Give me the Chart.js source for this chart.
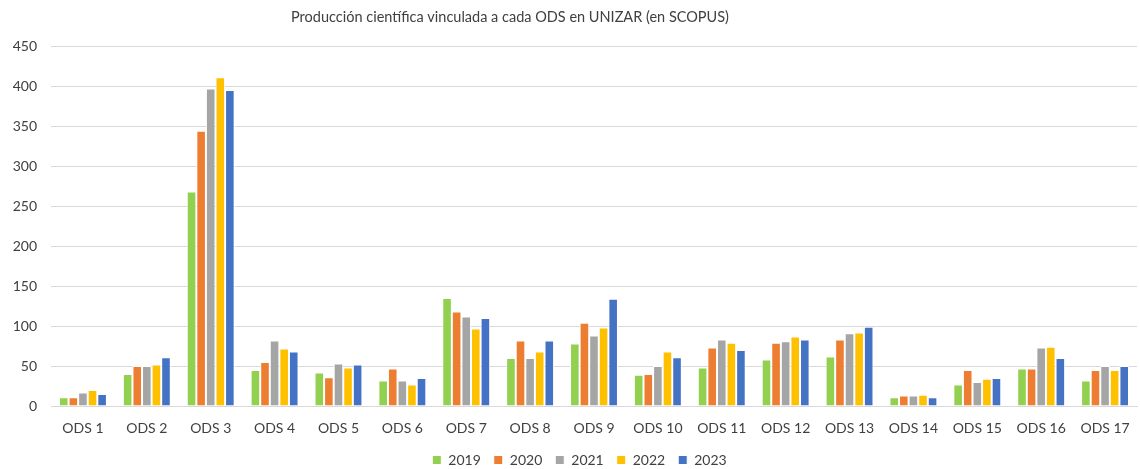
<!DOCTYPE html>
<html>
<head>
<meta charset="utf-8">
<script src="https://cdn.jsdelivr.net/npm/chart.js@4.4.0/dist/chart.umd.min.js"></script>
<style>
  html, body { margin: 0; padding: 0; background: #fff; }
  #wrap { width: 1140px; height: 469px; }
</style>
</head>
<body>
<div id="wrap"><canvas id="chart" width="1140" height="469"></canvas></div>
<script>
const categories = ['ODS 1', 'ODS 2', 'ODS 3', 'ODS 4', 'ODS 5', 'ODS 6', 'ODS 7', 'ODS 8', 'ODS 9',
  'ODS 10', 'ODS 11', 'ODS 12', 'ODS 13', 'ODS 14', 'ODS 15', 'ODS 16', 'ODS 17'];

const years = ['2019', '2020', '2021', '2022', '2023'];
const colors = ['#92d050', '#ed7d31', '#a5a5a5', '#ffc000', '#4472c4'];

const v2019 = [11, 40, 268, 45, 42, 32, 135, 60, 78, 39, 48, 58, 62, 11, 27, 47, 32];
const v2020 = [11, 50, 344, 55, 36, 47, 118, 82, 104, 40, 73, 79, 83, 13, 45, 47, 45];
const v2021 = [17, 50, 397, 82, 53, 32, 112, 60, 88, 50, 83, 81, 91, 13, 30, 73, 50];
const v2022 = [20, 52, 411, 72, 48, 27, 97, 68, 98, 68, 79, 87, 92, 14, 34, 74, 45];
const v2023 = [15, 61, 395, 68, 52, 35, 110, 82, 134, 61, 70, 83, 99, 11, 35, 60, 50];

const series = [v2019, v2020, v2021, v2022, v2023];

const titleText = 'Producción científica vinculada a cada ODS en UNIZAR (en SCOPUS)';

const FONT = 'Lato, "Open Sans", sans-serif';

// el título de Excel no está centrado en el lienzo, lo dibujamos a mano
const titlePlugin = {
  id: 'offsetTitle',
  afterLayout(chart) {
    // leyenda algo desplazada a la derecha en el original
    chart.legend.left += 11;
    chart.legend.right += 11;
  },
  afterDraw(chart) {
    const ctx = chart.ctx;
    ctx.save();
    ctx.font = '14.5px ' + FONT;
    ctx.fillStyle = '#404040';
    ctx.textAlign = 'center';
    ctx.textBaseline = 'middle';
    ctx.fillText(titleText, 510, 17);
    ctx.restore();
  }
};

const datasets = years.map((y, i) => ({
  label: y,
  data: series[i],
  backgroundColor: colors[i],
  borderColor: '#ffffff',
  borderWidth: 1,
  borderSkipped: 'bottom',
  categoryPercentage: 0.75,
  barPercentage: 1.0
}));

new Chart(document.getElementById('chart'), {
  type: 'bar',
  data: { labels: categories, datasets: datasets },
  options: {
    responsive: false,
    animation: false,
    layout: { padding: { top: 46, right: 3, left: 0, bottom: -8 } },
    plugins: {
      title: { display: false },
      legend: {
        position: 'bottom',
        labels: {
          color: '#404040',
          font: { family: FONT, size: 14 },
          boxWidth: 9,
          boxHeight: 9,
          padding: 13
        }
      },
      tooltip: { enabled: false }
    },
    scales: {
      x: {
        grid: { display: false },
        border: { color: '#d9d9d9' },
        ticks: { color: '#404040', font: { family: FONT, size: 14 }, maxRotation: 0, padding: 6 },
        afterFit: (axis) => { axis.height = 34; }
      },
      y: {
        min: 0,
        max: 450,
        ticks: { stepSize: 50, color: '#404040', font: { family: FONT, size: 14 }, padding: 14 },
        grid: { color: '#d9d9d9', lineWidth: 1, drawTicks: false },
        border: { display: false },
        afterFit: (axis) => { axis.width = 51; }
      }
    }
  },
  plugins: [titlePlugin]
});
</script>
</body>
</html>
